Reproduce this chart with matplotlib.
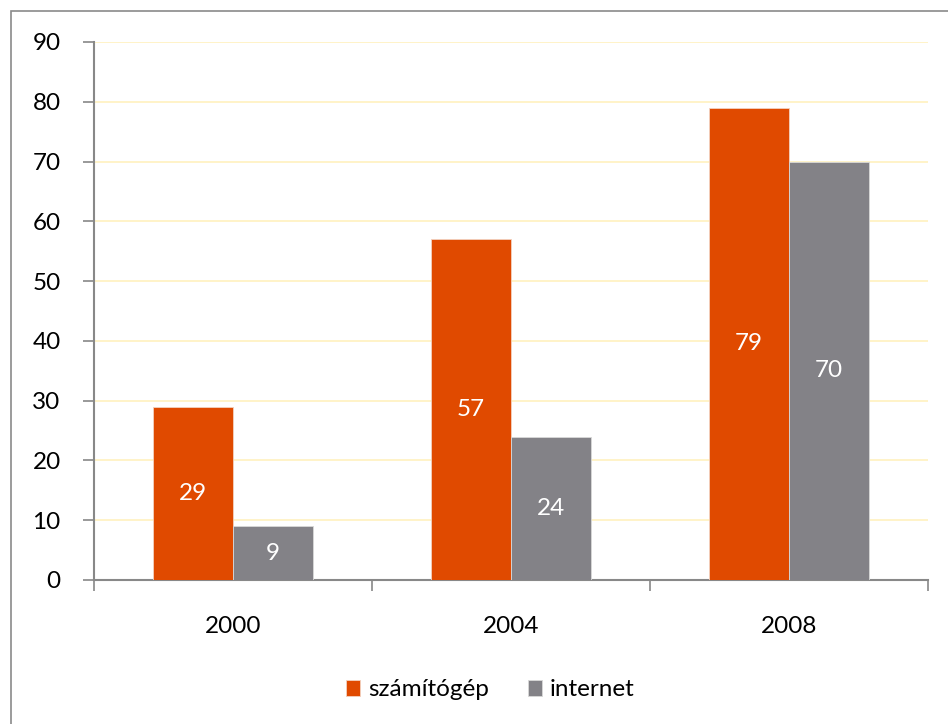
import numpy as np
import matplotlib.pyplot as plt
from matplotlib.patches import Rectangle

plt.rcParams['font.family'] = ['Lato', 'DejaVu Sans']

# Data
years = ['2000', '2004', '2008']
szamitogep = [29, 57, 79]
internet = [9, 24, 70]
series_names = ['számítógép', 'internet']
colors = ['#E04A00', '#838287']

fig = plt.figure(figsize=(9.48, 7.24), dpi=100)
ax = fig.add_axes([94 / 948, 1 - 580 / 724, 834 / 948, 538 / 724])

# outer frame
fig.patches.append(Rectangle((11 / 948, -0.01), 1.0, 1 - 11 / 724 + 0.01,
                             transform=fig.transFigure, fill=False,
                             edgecolor='#8a8a8a', linewidth=1.2))

x = np.arange(len(years))
w = 0.288
b1 = ax.bar(x - w / 2, szamitogep, w, color=colors[0], edgecolor='#f3d2c0',
            linewidth=0.6, label=series_names[0], zorder=3)
b2 = ax.bar(x + w / 2, internet, w, color=colors[1], edgecolor='#d8d8d8',
            linewidth=0.6, label=series_names[1], zorder=3)

for bars in (b1, b2):
    for r in bars:
        h = r.get_height()
        ax.text(r.get_x() + r.get_width() / 2, h / 2, f'{h:g}', ha='center',
                va='center', color='white', fontsize=17.5, zorder=4)

ax.set_xlim(-0.5, 2.5)
ax.set_ylim(0, 90)
ax.set_yticks(range(0, 91, 10))
ax.yaxis.grid(True, color='#FFF2C4', linewidth=1.3, zorder=0)
ax.set_axisbelow(True)

ax.set_xticks(x)
ax.set_xticklabels(years)
ax.set_xticks([-0.5, 0.5, 1.5, 2.5], minor=True)
ax.tick_params(axis='x', which='major', length=0, pad=26, labelsize=17.5)
ax.tick_params(axis='x', which='minor', length=8, color='#888888', width=1.2)
ax.tick_params(axis='y', length=8, color='#888888', width=1.2, labelsize=17.5, pad=16)

for s in ['top', 'right']:
    ax.spines[s].set_visible(False)
for s in ['left', 'bottom']:
    ax.spines[s].set_color('#888888')
    ax.spines[s].set_linewidth(1.5)

fig.legend(handles=[b1, b2], labels=series_names, loc='center',
           bbox_to_anchor=(490 / 948, 1 - 690 / 724), ncol=2, frameon=False,
           fontsize=17.5, handlelength=0.6, handleheight=0.6, handletextpad=0.3,
           columnspacing=1.6)

fig.savefig('out.png', dpi=100)
